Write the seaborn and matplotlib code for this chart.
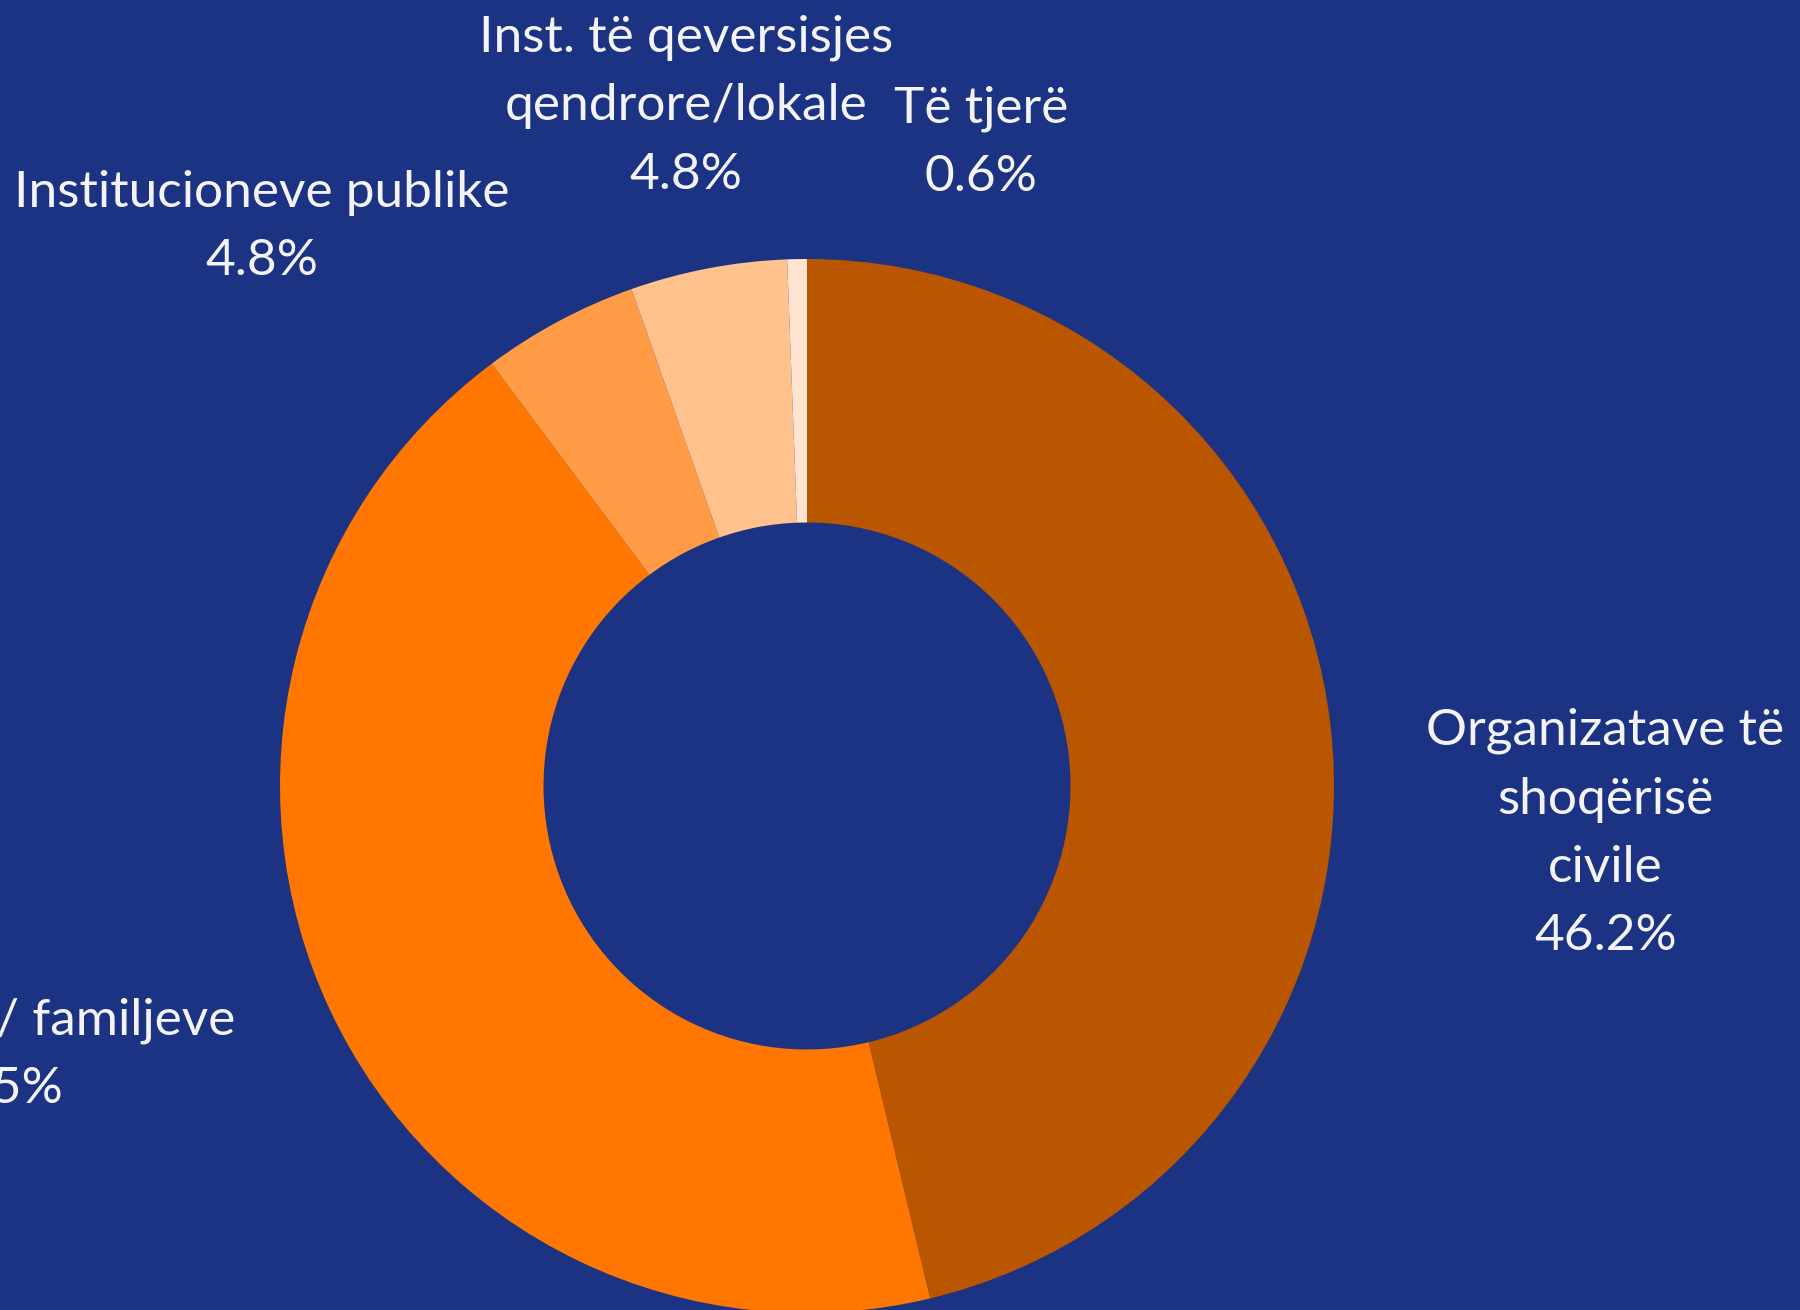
import matplotlib
matplotlib.use("Agg")
import matplotlib.pyplot as plt
import seaborn as sns
import numpy as np

categories = ["Organizatave të\nshoqërisë\ncivile", "Individëve / familjeve",
              "Institucioneve publike", "Inst. të qeversisjes\nqendrore/lokale", "Të tjerë"]
values = [46.2, 43.5, 4.8, 4.8, 0.6]
pct_labels = ["46.2%", "43.5%", "4.8%", "4.8%", "0.6%"]
colors = ["#BA5500", "#FF7700", "#FF9C45", "#FFC28C", "#FFE5D1"]
bg = "#1B3382"

# label positions in units of the outer radius (text only)
label_pos = [(1.515, -0.09), (-1.546, -0.51), (-1.035, 1.06), (-0.23, 1.29), (0.33, 1.22)]

sns.set_theme(style="white")
plt.rcParams['font.family'] = ['Lato', 'DejaVu Sans']

fig = plt.figure(figsize=(18, 13.1), dpi=100, facecolor=bg)
ax = fig.add_axes([0, 0, 1, 1])
ax.set_facecolor(bg)

wedges, _ = ax.pie(values, colors=sns.color_palette(colors), startangle=90, counterclock=False,
                   radius=1.0, wedgeprops=dict(width=0.5, linewidth=0),
                   normalize=True)

for (x, y), lab, pct in zip(label_pos, categories, pct_labels):
    ax.text(x, y, lab + "\n" + pct, ha="center", va="center", color="#F4F4F8",
            fontsize=37, linespacing=1.6)

ax.set_xlim(-807/527, (1800-807)/527)
ax.set_ylim(-(1310-786)/527, 786/527)
ax.set_aspect("equal")
ax.axis("off")

fig.savefig("out.png", dpi=100, facecolor=bg)
